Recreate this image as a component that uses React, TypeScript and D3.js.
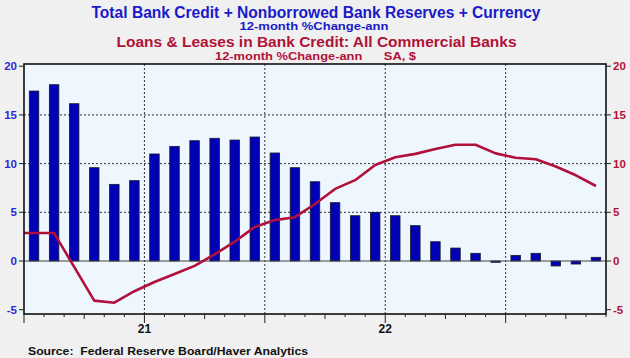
import React from "react";
import * as d3 from "d3";

const months: string[] = [
  "2020-07","2020-08","2020-09","2020-10","2020-11","2020-12",
  "2021-01","2021-02","2021-03","2021-04","2021-05","2021-06",
  "2021-07","2021-08","2021-09","2021-10","2021-11","2021-12",
  "2022-01","2022-02","2022-03","2022-04","2022-05","2022-06",
  "2022-07","2022-08","2022-09","2022-10","2022-11",
];

// Bars: Total Bank Credit + Nonborrowed Bank Reserves + Currency, 12-month % change
const creditReservesCurrency: number[] = [
  17.45, 18.1, 16.15, 9.58, 7.87, 8.25,
  10.99, 11.77, 12.35, 12.6, 12.42, 12.73, 11.09, 9.58, 8.14, 5.99, 4.65, 5.0,
  4.65, 3.63, 1.98, 1.33, 0.79, -0.13, 0.58, 0.79, -0.51, -0.31, 0.38,
];

// Line: Loans & Leases in Bank Credit, 12-month % change (starts Jun 2020, clipped at left)
const lineMonths: string[] = ["2020-06", ...months];
const loansLeases: number[] = [
  2.87, 2.87, 2.87, -0.6, -4.07, -4.28, -3.1,
  -2.15, -1.33, -0.5, 0.69, 1.98, 3.5, 4.2, 4.5, 5.85, 7.4, 8.3, 9.85,
  10.65, 11.0, 11.5, 11.94, 11.94, 11.05, 10.6, 10.45, 9.7, 8.8, 7.7,
];

const yTicks: number[] = [-5, 0, 5, 10, 15, 20];
const gridY: number[] = [5, 10, 15];
const yearLabels: { label: string; date: string }[] = [
  { label: "21", date: "2021-01" },
  { label: "22", date: "2022-01" },
];
const gridX: string[] = ["2021-01", "2021-07", "2022-01", "2022-07"];

const W = 630;
const H = 358;
const L = 24;
const R = 606;
const T = 64;
const B = 314;

const start = { y: 2020, m: 7 };
const idx = (s: string) => {
  const [yy, mm] = s.split("-").map(Number);
  return (yy - start.y) * 12 + (mm - start.m);
};

const FONT = "'Liberation Sans', Arial, sans-serif";
const BLUE = "#1a1ac8";
const BLUE_AX = "#2c2cd6";
const RED = "#b01238";
const LINE_RED = "#b0103a";

export default function App() {
  const x = d3.scaleLinear().domain([0, 29]).range([L, R]);
  const y = d3.scaleLinear().domain([-5.44, 20.226]).range([B, T]);
  const barW = 9.5;

  const line = d3
    .line<number>()
    .x((_, i) => x(idx(lineMonths[i]) + 0.5))
    .y((d) => y(d));

  const tickMs = d3.range(0, 30);

  return (
    <svg
      width={W}
      height={H}
      style={{ position: "absolute", left: 0, top: 0, display: "block" }}
      fontFamily={FONT}
    >
      <defs>
        <clipPath id="plotclip">
          <rect x={L} y={T} width={R - L} height={B - T} />
        </clipPath>
      </defs>
      <rect x={0} y={0} width={W} height={H} fill="#f0f0f0" />

      {/* Titles */}
      <text x={316} y={18} textAnchor="middle" fontSize={16} fontWeight="bold" fill={BLUE}
        textLength={449} lengthAdjust="spacingAndGlyphs">
        Total Bank Credit + Nonborrowed Bank Reserves + Currency
      </text>
      <text x={314} y={29.5} textAnchor="middle" fontSize={11.5} fontWeight="bold" fill={BLUE}
        textLength={149} lengthAdjust="spacingAndGlyphs">
        12-month %Change-ann
      </text>
      <text x={316.5} y={46.5} textAnchor="middle" fontSize={15.5} fontWeight="bold" fill={RED}
        textLength={400} lengthAdjust="spacingAndGlyphs">
        Loans &amp; Leases in Bank Credit: All Commercial Banks
      </text>
      <text x={315.5} y={60} textAnchor="middle" fontSize={11} fontWeight="bold" fill={RED}
        textLength={201} lengthAdjust="spacingAndGlyphs" style={{ whiteSpace: "pre" }}>
        {"12-month %Change-ann      SA, $"}
      </text>

      {/* Plot background */}
      <rect x={L} y={T} width={R - L} height={B - T} fill="#eef6fe" />

      {/* Grid */}
      {gridY.map((v) => (
        <line key={"gy" + v} x1={L} x2={R} y1={y(v)} y2={y(v)} stroke="#333" strokeWidth={1}
          strokeDasharray="2,2" />
      ))}
      {gridX.map((d) => (
        <line key={"gx" + d} x1={x(idx(d))} x2={x(idx(d))} y1={T} y2={B} stroke="#333"
          strokeWidth={1} strokeDasharray="2,2" />
      ))}

      {/* Bars */}
      <g clipPath="url(#plotclip)">
        {creditReservesCurrency.map((v, i) => {
          const cx = x(idx(months[i]) + 0.5);
          const y0 = y(0);
          const yv = y(v);
          return (
            <rect key={"b" + i} x={cx - barW / 2} y={Math.min(y0, yv)} width={barW}
              height={Math.max(Math.abs(yv - y0), 0.8)} fill="#0000b4" stroke="#1a1a2a"
              strokeWidth={0.8} />
          );
        })}
      </g>

      {/* Zero line */}
      <line x1={L} x2={R} y1={y(0)} y2={y(0)} stroke="#444" strokeWidth={1.2} />

      {/* Red line */}
      <g clipPath="url(#plotclip)">
        <path d={line(loansLeases) || ""} fill="none" stroke={LINE_RED} strokeWidth={2.6}
          strokeLinejoin="round" />
      </g>

      {/* Frame */}
      <rect x={L} y={T} width={R - L} height={B - T} fill="none" stroke="#111" strokeWidth={1.6} />

      {/* Left axis */}
      {yTicks.map((v) => (
        <g key={"ly" + v}>
          <line x1={L - 5} x2={L} y1={y(v)} y2={y(v)} stroke="#222" strokeWidth={1} />
          <text x={L - 7} y={y(v) + 4} textAnchor="end" fontSize={11.5} fontWeight="bold"
            fill={BLUE_AX}>
            {v}
          </text>
        </g>
      ))}
      {/* Right axis */}
      {yTicks.map((v) => (
        <g key={"ry" + v}>
          <line x1={R} x2={R + 5} y1={y(v)} y2={y(v)} stroke="#222" strokeWidth={1} />
          <text x={R + 7} y={y(v) + 4} textAnchor="start" fontSize={11.5} fontWeight="bold"
            fill={RED}>
            {v}
          </text>
        </g>
      ))}

      {/* Bottom ticks */}
      {tickMs.map((m) => {
        const len = m % 6 === 0 ? 9 : m % 3 === 0 ? 5 : 3;
        return (
          <line key={"t" + m} x1={x(m)} x2={x(m)} y1={B} y2={B + len} stroke="#222"
            strokeWidth={1} />
        );
      })}
      {yearLabels.map((yl) => (
        <text key={yl.label} x={x(idx(yl.date))} y={333} textAnchor="middle" fontSize={12}
          fontWeight="bold" fill="#111">
          {yl.label}
        </text>
      ))}

      <text x={28} y={355} fontSize={11.5} fontWeight="bold" fill="#111" textLength={280}
        lengthAdjust="spacingAndGlyphs" style={{ whiteSpace: "pre" }}>
        {"Source:  Federal Reserve Board/Haver Analytics"}
      </text>
    </svg>
  );
}
